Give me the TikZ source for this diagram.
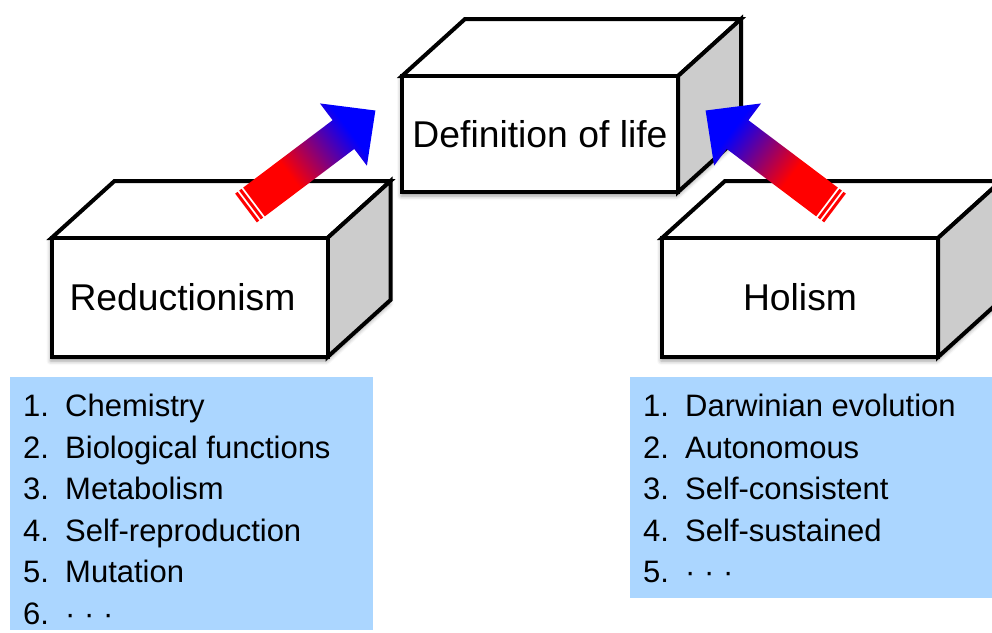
\documentclass[tikz,border=0pt]{standalone}
\usepackage{fontspec}
\setmainfont{Liberation Sans}
\usetikzlibrary{calc, backgrounds, shadows.blur}

\definecolor{listblue}{RGB}{171,214,255}
\definecolor{sidegray}{RGB}{204,204,204}
\pgfdeclarehorizontalshading{redtoblue}{100bp}{color(0bp)=(red); color(40bp)=(red); color(70bp)=(blue); color(100bp)=(blue)}

\begin{document}
\begin{tikzpicture}[x=1pt, y=-1pt, line join=miter,
    facebox/.style={draw, line width=4pt, fill=white},
    frontbox/.style={facebox, minimum width=276pt, minimum height=119pt,
                     inner sep=0pt, outer sep=0pt, font=\fontsize{37.3}{40}\selectfont},
    listbox/.style={fill=listblue},
    item/.style={anchor=base west, inner sep=0pt, font=\fontsize{31}{36}\selectfont},
    bigarrow/.style={shading=redtoblue, shading angle=#1}]
  \useasboundingbox (0,0) rectangle (992,632);

  % front faces of the three boxes
  \node[frontbox, minimum height=116pt] (life) at (540,134) {Definition of life};
  \node[frontbox] (reduct) at (189.5,297.5) {Reductionism\kern14pt};
  \node[frontbox] (holism) at (800,297.5) {Holism};

  % top and side faces, with a soft shadow
  \begin{scope}[on background layer]
    \foreach \b in {life, reduct, holism}{
      \fill[white, blur shadow={shadow xshift=-1pt, shadow yshift=-4pt,
                                shadow blur radius=4pt, shadow opacity=40}]
        (\b.north west) -- ++(63,-57) -- ($(\b.north east)+(63,-57)$)
        -- ($(\b.south east)+(63,-57)$) -- (\b.south east) -- (\b.south west) -- cycle;
      \draw[facebox] (\b.north west) -- ++(63,-57) -- ($(\b.north east)+(63,-57)$)
        -- (\b.north east) -- cycle;
      \draw[facebox, fill=sidegray] (\b.north east) -- ++(63,-57)
        -- ($(\b.south east)+(63,-57)$) -- (\b.south east) -- cycle;
    }
  \end{scope}

  % the two lists
  \fill[listbox] (10,377) rectangle (373,630);
  \fill[listbox] (630,377) rectangle (1000,598);
  \foreach \t [count=\i] in {Chemistry, Biological functions, Metabolism,
                             Self-reproduction, Mutation, · · ·}{
    \node[item] (rnum\i) at (23,{375+41.5*\i}) {\i.};
    \node[item] (rtxt\i) at (65,{375+41.5*\i}) {\t};
  }
  \foreach \t [count=\i] in {Darwinian evolution, Autonomous, Self-consistent,
                             Self-sustained, · · ·}{
    \node[item] (hnum\i) at (643,{375+41.5*\i}) {\i.};
    \node[item] (htxt\i) at (685,{375+41.5*\i}) {\t};
  }

  % striped arrows up to the definition
  \coordinate (ltail) at (246,208);
  \coordinate (rtail) at (835,208);
  \foreach \c/\a in {ltail/37, rtail/143}{
    \begin{scope}[shift={(\c)}, rotate=\a]
      \shade[bigarrow=\a] (10,-18) -- (122,-18) -- (122,-39) -- (162,0)
        -- (122,39) -- (122,18) -- (10,18) -- cycle;
      \fill[red] (0,-18) rectangle (3,18) (5,-18) rectangle (8,18);
    \end{scope}
  }
\end{tikzpicture}
\end{document}
